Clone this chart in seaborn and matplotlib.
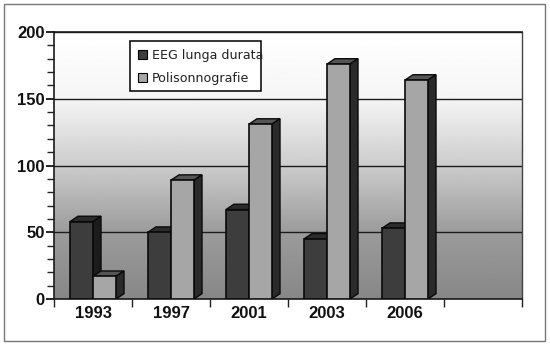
import numpy as np
import pandas as pd
import seaborn as sns
import matplotlib.pyplot as plt
from matplotlib.patches import Polygon, Rectangle, Patch
from matplotlib.ticker import MultipleLocator, FixedLocator, NullFormatter

years = ['1993', '1997', '2001', '2003', '2006']
eeg = [58, 50, 67, 45, 53]
poli = [17, 89, 131, 176, 164]
series_names = ['EEG lunga durata', 'Polisonnografie']

df = pd.DataFrame({
    'anno': years * 2,
    'esami': eeg + poli,
    'tipo': [series_names[0]] * len(years) + [series_names[1]] * len(years),
})

sns.set_theme(style="white")
plt.rcParams['font.family'] = ['Liberation Sans', 'DejaVu Sans']

fig = plt.figure(figsize=(5.5, 3.46), dpi=100)
ax = fig.add_axes([54 / 550, 1 - 299 / 346, 468 / 550, 267 / 346])

# front, top and side colours for each series
front_colors = ['#3d3d3d', '#a6a6a6']
top_colors = ['#2b2b2b', '#555555']
side_colors = ['#1c1c1c', '#2a2a2a']

# the blank category leaves the empty slot on the right
sns.barplot(data=df, x='anno', y='esami', hue='tipo', order=years + [' '],
            hue_order=series_names, palette=front_colors, width=0.59, gap=0,
            edgecolor='#0a0a0a', linewidth=1.2, legend=False, ax=ax)

# fake 3d depth, as in the original spreadsheet chart
dx = 8 / 78
dy = 4.0
for i, container in enumerate(ax.containers):
    for bar in container:
        h = bar.get_height()
        if np.isnan(h) or h == 0:
            continue
        x0 = bar.get_x()
        x1 = x0 + bar.get_width()
        bar.set_zorder(3.1 + i)
        top = Polygon([(x0, h), (x0 + dx, h + dy), (x1 + dx, h + dy), (x1, h)],
                      facecolor=top_colors[i], edgecolor='#0a0a0a', lw=1, zorder=3 + i)
        side = Polygon([(x1, 0), (x1 + dx, dy), (x1 + dx, h + dy), (x1, h)],
                       facecolor=side_colors[i], edgecolor='#0a0a0a', lw=1, zorder=3 + i)
        ax.add_patch(top)
        ax.add_patch(side)

# background gradient, grey levels read at 0, 50, 100, 150, 200
grey_at = [0, 50, 100, 150, 200]
grey_level = [0.53, 0.61, 0.80, 0.96, 1.0]
rows = np.linspace(200, 0, 256)
grad = np.interp(rows, grey_at, grey_level).reshape(-1, 1)
ax.imshow(grad, cmap='gray', vmin=0, vmax=1, aspect='auto', extent=(-0.5, 5.5, 0, 200),
          interpolation='bilinear', zorder=0)

ax.set_xlim(-0.5, 5.5)
ax.set_ylim(0, 200)
ax.set_xlabel('')
ax.set_ylabel('')

ax.yaxis.set_major_locator(MultipleLocator(50))
ax.yaxis.set_minor_locator(MultipleLocator(10))
ax.tick_params(axis='y', which='major', left=True, length=6, width=1.2, color='black',
               labelsize=12, pad=0.5)
ax.tick_params(axis='y', which='minor', left=True, length=5, width=1, color='#222222')
for label in ax.get_yticklabels():
    label.set_fontweight('bold')
    label.set_color('#111111')

ax.xaxis.set_minor_locator(FixedLocator(np.arange(-0.5, 6, 1)))
ax.xaxis.set_minor_formatter(NullFormatter())
ax.tick_params(axis='x', which='major', bottom=False, length=0, labelsize=12, pad=5.4)
ax.tick_params(axis='x', which='minor', bottom=True, length=6, width=1, color='#222222')
for label in ax.get_xticklabels():
    label.set_fontweight('bold')
    label.set_color('#111111')

ax.grid(axis='y', which='major', color='#1c1c1c', lw=1, zorder=1)
ax.set_axisbelow(True)
for name, spine in ax.spines.items():
    spine.set_visible(True)
    spine.set_color('#1a1a1a')
    spine.set_linewidth(1.2)
ax.spines['right'].set_color('#444444')
ax.spines['right'].set_linewidth(1)

# legend box drawn by hand, the text runs right up to the border like in the original
ax.add_patch(Rectangle(((130 - 54) / 468, (299 - 91) / 267), 131 / 468, 50 / 267,
                       transform=ax.transAxes, facecolor='white', edgecolor='black',
                       lw=1.1, zorder=9))
handles = [Patch(facecolor=front_colors[i], edgecolor='black', lw=0.8) for i in range(2)]
leg = ax.legend(handles, series_names, loc='upper left',
                bbox_to_anchor=((130 - 54) / 468, (299 - 41) / 267), bbox_transform=ax.transAxes,
                frameon=False, borderaxespad=0, handlelength=0.7, handleheight=0.7,
                handletextpad=0.4, labelspacing=0.8, borderpad=0.62,
                prop={'family': 'DejaVu Sans', 'size': 9.1})
leg.set_zorder(10)
for t in leg.get_texts():
    t.set_color('#222222')

# outer frame
fig.add_artist(Rectangle((3.5 / 550, 1 - 341 / 346), (545 - 3.5) / 550, (341 - 4) / 346,
                         transform=fig.transFigure, fill=False, edgecolor='#777777', lw=1))

plt.savefig('out.png', format='png', dpi=100)
